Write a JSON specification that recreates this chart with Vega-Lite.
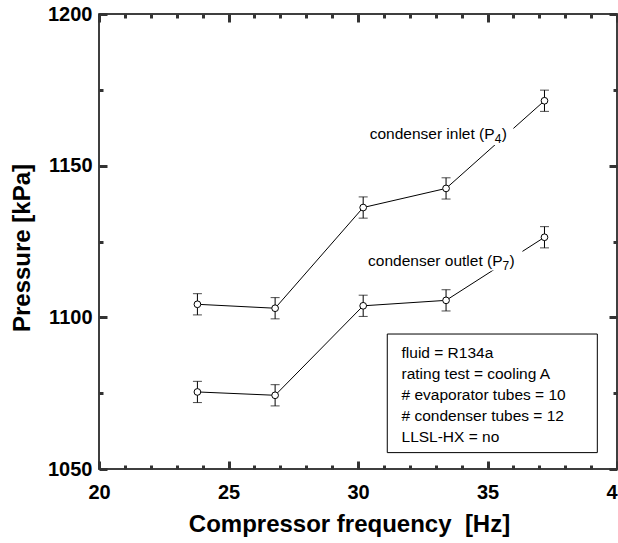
{
  "$schema": "https://vega.github.io/schema/vega-lite/v6.json",
  "autosize": {"type": "none"},
  "width": 518,
  "height": 455,
  "padding": {"left": 99, "top": 14, "right": 1, "bottom": 74},
  "background": "white",
  "config": {
    "view": {"stroke": "black", "strokeWidth": 1.5},
    "font": "Liberation Sans",
    "axis": {
      "grid": false,
      "domain": false,
      "labelFont": "Liberation Sans",
      "labelFontWeight": "bold",
      "labelFontSize": 20,
      "labelColor": "black",
      "titleFont": "Liberation Sans",
      "titleFontWeight": "bold",
      "titleFontSize": 24,
      "titleColor": "black",
      "labelFlush": false,
      "labelOverlap": false,
      "labelBound": false
    }
  },
  "data": {
    "values": [
      {"f": 23.8, "p": 1104.3, "lo": 1100.8, "hi": 1107.8, "series": "inlet"},
      {"f": 26.8, "p": 1103.0, "lo": 1099.5, "hi": 1106.5, "series": "inlet"},
      {"f": 30.2, "p": 1136.2, "lo": 1132.7, "hi": 1139.7, "series": "inlet"},
      {"f": 33.4, "p": 1142.5, "lo": 1139.0, "hi": 1146.0, "series": "inlet"},
      {"f": 37.2, "p": 1171.4, "lo": 1167.9, "hi": 1174.9, "series": "inlet"},
      {"f": 23.8, "p": 1075.4, "lo": 1071.9, "hi": 1078.9, "series": "outlet"},
      {"f": 26.8, "p": 1074.3, "lo": 1070.8, "hi": 1077.8, "series": "outlet"},
      {"f": 30.2, "p": 1103.8, "lo": 1100.3, "hi": 1107.3, "series": "outlet"},
      {"f": 33.4, "p": 1105.6, "lo": 1102.1, "hi": 1109.1, "series": "outlet"},
      {"f": 37.2, "p": 1126.4, "lo": 1122.9, "hi": 1129.9, "series": "outlet"}
    ]
  },
  "resolve": {"axis": {"x": "independent", "y": "independent"}},
  "layer": [
    {
      "mark": {"type": "line", "color": "black", "strokeWidth": 1},
      "encoding": {
        "x": {
          "field": "f", "type": "quantitative",
          "scale": {"domain": [20, 40], "nice": false, "zero": false},
          "axis": {
            "orient": "bottom",
            "title": "Compressor frequency\u00a0 [Hz]",
            "values": [20, 25, 30, 35, 40],
            "ticks": false,
            "labelPadding": 13.5,
            "titlePadding": 9.5,
            "titleX": 250
          }
        },
        "y": {
          "field": "p", "type": "quantitative",
          "scale": {"domain": [1050, 1200], "nice": false, "zero": false},
          "axis": {
            "orient": "left",
            "title": "Pressure [kPa]",
            "format": "d",
            "values": [1050, 1100, 1150, 1200],
            "ticks": false,
            "labelPadding": 7,
            "titlePadding": 13,
            "titleY": 233.5
          }
        },
        "detail": {"field": "series"}
      }
    },
    {
      "mark": {"type": "rule", "color": "black", "strokeWidth": 1},
      "encoding": {
        "x": {
          "field": "f", "type": "quantitative",
          "axis": {
            "orient": "bottom",
            "offset": -455,
            "title": null,
            "labels": false,
            "ticks": true,
            "tickColor": "#333333",
            "tickWidth": 3,
            "values": [20,21,22,23,24,25,26,27,28,29,30,31,32,33,34,35,36,37,38,39,40],
            "tickSize": {"condition": {"test": "datum.value % 5 === 0", "value": 8}, "value": 4}
          }
        },
        "y": {
          "field": "lo", "type": "quantitative",
          "axis": {
            "orient": "left",
            "offset": -518,
            "title": null,
            "labels": false,
            "ticks": true,
            "tickColor": "#333333",
            "tickWidth": 3,
            "values": [1050,1075,1100,1125,1150,1175,1200],
            "tickSize": {"condition": {"test": "datum.value % 50 === 0", "value": 8}, "value": 4}
          }
        },
        "y2": {"field": "hi"}
      }
    },
    {
      "mark": {"type": "tick", "orient": "horizontal", "color": "black", "size": 9, "thickness": 1},
      "encoding": {
        "x": {"field": "f", "type": "quantitative", "axis": null},
        "y": {"field": "lo", "type": "quantitative", "axis": null}
      }
    },
    {
      "mark": {"type": "tick", "orient": "horizontal", "color": "black", "size": 9, "thickness": 1},
      "encoding": {
        "x": {"field": "f", "type": "quantitative", "axis": null},
        "y": {"field": "hi", "type": "quantitative", "axis": null}
      }
    },
    {
      "mark": {"type": "point", "shape": "circle", "size": 45, "filled": true, "fill": "white", "stroke": "black", "strokeWidth": 1, "opacity": 1},
      "encoding": {
        "x": {
          "field": "f", "type": "quantitative",
          "axis": {
            "orient": "top",
            "offset": -455,
            "title": null,
            "labels": false,
            "ticks": true,
            "tickColor": "#333333",
            "tickWidth": 3,
            "values": [20,21,22,23,24,25,26,27,28,29,30,31,32,33,34,35,36,37,38,39,40],
            "tickSize": {"condition": {"test": "datum.value % 5 === 0", "value": 8}, "value": 4}
          }
        },
        "y": {
          "field": "p", "type": "quantitative",
          "axis": {
            "orient": "right",
            "offset": -518,
            "title": null,
            "labels": false,
            "ticks": true,
            "tickColor": "#333333",
            "tickWidth": 3,
            "values": [1050,1075,1100,1125,1150,1175,1200],
            "tickSize": {"condition": {"test": "datum.value % 50 === 0", "value": 8}, "value": 4}
          }
        }
      }
    },
    {
      "data": {"values": [{}]},
      "mark": {"type": "rect", "fill": "white", "stroke": null},
      "encoding": {
        "x": {"datum": 30.3, "type": "quantitative", "axis": null},
        "x2": {"datum": 36.0},
        "y": {"datum": 1156.8, "type": "quantitative", "axis": null},
        "y2": {"datum": 1163.5}
      }
    },
    {
      "data": {"values": [{}]},
      "mark": {"type": "rect", "fill": "white", "stroke": null},
      "encoding": {
        "x": {"datum": 30.3, "type": "quantitative", "axis": null},
        "x2": {"datum": 36.35},
        "y": {"datum": 1115.4, "type": "quantitative", "axis": null},
        "y2": {"datum": 1122.2}
      }
    },
    {
      "data": {"values": [{"label": "condenser inlet (P"}]},
      "mark": {"type": "text", "align": "left", "baseline": "alphabetic", "fontSize": 15.5, "color": "black", "font": "Liberation Sans"},
      "encoding": {
        "x": {"datum": 30.45, "type": "quantitative", "axis": null},
        "y": {"datum": 1158.7, "type": "quantitative", "axis": null},
        "text": {"field": "label"}
      }
    },
    {
      "data": {"values": [{"label": "4"}]},
      "mark": {"type": "text", "align": "left", "baseline": "alphabetic", "fontSize": 12, "dx": 125, "dy": 4, "color": "black", "font": "Liberation Sans"},
      "encoding": {
        "x": {"datum": 30.45, "type": "quantitative", "axis": null},
        "y": {"datum": 1158.7, "type": "quantitative", "axis": null},
        "text": {"field": "label"}
      }
    },
    {
      "data": {"values": [{"label": ")"}]},
      "mark": {"type": "text", "align": "left", "baseline": "alphabetic", "fontSize": 15.5, "dx": 132, "color": "black", "font": "Liberation Sans"},
      "encoding": {
        "x": {"datum": 30.45, "type": "quantitative", "axis": null},
        "y": {"datum": 1158.7, "type": "quantitative", "axis": null},
        "text": {"field": "label"}
      }
    },
    {
      "data": {"values": [{"label": "condenser outlet (P"}]},
      "mark": {"type": "text", "align": "left", "baseline": "alphabetic", "fontSize": 15.5, "color": "black", "font": "Liberation Sans"},
      "encoding": {
        "x": {"datum": 30.39, "type": "quantitative", "axis": null},
        "y": {"datum": 1117.0, "type": "quantitative", "axis": null},
        "text": {"field": "label"}
      }
    },
    {
      "data": {"values": [{"label": "7"}]},
      "mark": {"type": "text", "align": "left", "baseline": "alphabetic", "fontSize": 12, "dx": 134.5, "dy": 4, "color": "black", "font": "Liberation Sans"},
      "encoding": {
        "x": {"datum": 30.39, "type": "quantitative", "axis": null},
        "y": {"datum": 1117.0, "type": "quantitative", "axis": null},
        "text": {"field": "label"}
      }
    },
    {
      "data": {"values": [{"label": ")"}]},
      "mark": {"type": "text", "align": "left", "baseline": "alphabetic", "fontSize": 15.5, "dx": 141.5, "color": "black", "font": "Liberation Sans"},
      "encoding": {
        "x": {"datum": 30.39, "type": "quantitative", "axis": null},
        "y": {"datum": 1117.0, "type": "quantitative", "axis": null},
        "text": {"field": "label"}
      }
    },
    {
      "data": {"values": [{}]},
      "mark": {"type": "rect", "fill": "white", "stroke": "black", "strokeWidth": 1},
      "encoding": {
        "x": {"datum": 31.13, "type": "quantitative", "axis": null},
        "x2": {"datum": 39.24},
        "y": {"datum": 1055.4, "type": "quantitative", "axis": null},
        "y2": {"datum": 1094.5}
      }
    },
    {
      "data": {"values": [{"info": "fluid = R134a\nrating test = cooling A\n# evaporator tubes = 10\n# condenser tubes = 12\nLLSL-HX = no"}]},
      "mark": {"type": "text", "align": "left", "baseline": "alphabetic", "fontSize": 15.5, "lineHeight": 21, "lineBreak": "\n", "color": "black", "font": "Liberation Sans"},
      "encoding": {
        "x": {"datum": 31.68, "type": "quantitative", "axis": null},
        "y": {"datum": 1086.7, "type": "quantitative", "axis": null},
        "text": {"field": "info"}
      }
    }
  ]
}
